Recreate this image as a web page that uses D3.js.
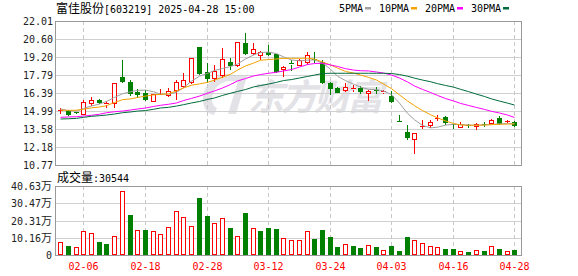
<!DOCTYPE html>
<html>
<head>
<meta charset="utf-8">
<title>富佳股份 日K</title>
<script src="https://cdn.jsdelivr.net/npm/d3@7"></script>
<style>
  body { margin: 0; background: #fff; }
  svg text { font-family: "DejaVu Sans Mono", monospace; font-size: 10px; }
  svg .cjk { font-family: "Noto Sans CJK SC", sans-serif; font-size: 12px; }
</style>
</head>
<body>
<svg id="chart" width="578" height="276"></svg>
<script>
// --- data ---
var title = "富佳股份";
var code = "[603219] 2025-04-28 15:00";
var dates = ["01-24","01-27","02-05","02-06","02-07","02-10","02-11","02-12","02-13","02-14",
  "02-17","02-18","02-19","02-20","02-21","02-24","02-25","02-26","02-27","02-28",
  "03-03","03-04","03-05","03-06","03-07","03-10","03-11","03-12","03-13","03-14",
  "03-17","03-18","03-19","03-20","03-21","03-24","03-25","03-26","03-27","03-28",
  "03-31","04-01","04-02","04-03","04-07","04-08","04-09","04-10","04-11","04-14",
  "04-15","04-16","04-17","04-18","04-21","04-22","04-23","04-24","04-25","04-28"];
var openP = [15.03,15.00,14.90,14.76,15.63,15.86,15.56,15.59,17.61,17.27,
  16.49,16.41,15.79,16.26,16.21,16.62,16.94,17.27,19.96,18.05,
  17.54,17.79,18.81,18.58,20.32,19.49,19.36,19.61,19.41,18.24,
  18.70,18.58,18.84,19.06,18.84,17.15,16.80,16.62,16.74,16.80,
  16.37,16.64,16.47,16.18,14.22,13.36,12.78,13.79,13.89,14.44,
  14.52,13.99,13.76,13.91,13.84,13.96,14.07,14.41,14.18,14.10];
var closeP = [15.05,14.78,14.88,15.70,15.84,15.66,15.60,17.15,17.30,16.37,
  16.29,15.90,16.31,16.30,16.55,17.27,17.40,19.10,17.93,17.54,
  18.13,19.02,18.55,20.39,19.54,19.80,19.61,19.43,18.13,18.44,
  18.67,18.94,19.36,19.02,17.27,16.80,16.49,16.88,16.78,16.55,
  16.57,16.60,16.51,15.77,14.20,12.96,13.24,13.83,14.15,14.47,
  14.10,13.96,13.97,13.88,14.00,13.94,14.28,14.07,14.20,13.91];
var highP = [15.20,15.05,14.92,15.82,16.10,15.95,15.79,17.15,18.97,17.40,
  16.68,16.60,16.31,16.68,16.76,17.40,17.93,19.10,19.96,18.76,
  18.58,19.93,19.10,20.39,21.10,20.32,19.66,20.14,19.43,18.47,
  19.00,19.02,19.61,19.60,18.97,17.25,16.82,17.15,17.01,16.96,
  16.60,16.83,16.60,16.55,14.67,13.89,13.26,14.28,14.31,14.67,
  14.62,14.00,14.15,14.00,14.02,14.10,14.36,14.62,14.26,14.18];
var lowP = [14.85,14.70,14.86,14.74,15.45,15.60,15.32,15.32,17.25,16.23,
  16.10,15.84,15.79,16.20,16.16,15.90,16.88,17.20,17.85,17.27,
  17.35,17.66,18.24,18.50,19.46,19.46,19.02,19.38,18.01,17.72,
  18.20,18.55,18.63,18.84,17.20,16.35,16.49,16.57,16.55,16.40,
  15.84,16.42,16.40,15.72,14.20,12.80,11.73,13.63,13.76,14.28,
  13.99,13.63,13.74,13.76,13.58,13.84,14.05,13.97,14.12,13.84];
// volume in 万 shares, and whether the volume bar is drawn red (1) or green (0)
var volume = [7.6,5.3,4.5,14.1,12.9,7.8,6.6,11.2,37.6,23.7,
  14.7,14.7,14.1,12.3,16.4,25.8,22.3,17.0,33.6,23.1,
  18.8,21.7,16.0,11.2,24.8,15.8,14.1,15.8,15.4,10.0,
  8.8,8.8,14.1,9.4,14.7,10.6,4.7,6.5,5.3,4.1,
  5.9,4.7,2.9,5.3,2.3,10.6,8.8,7.0,5.3,4.7,
  3.5,3.5,2.3,1.8,2.9,2.3,5.3,3.5,2.3,3.0544];
var volUp = [1,0,1,1,1,0,0,1,1,0, 1,0,1,1,1,1,1,1,0,0, 1,1,0,1,0,1,0,0,0,1,
  1,1,1,0,0,0,0,1,0,0, 1,0,1,0,0,0,1,1,1,1, 0,0,1,0,1,0,1,0,1,0];
var ma5 = [15.14,15.01,14.98,15.18,15.38,15.53,15.73,16.05,16.33,16.49,
  16.59,16.62,16.49,16.30,16.29,16.45,16.80,17.32,17.70,17.92,
  18.15,18.30,18.45,18.65,19.05,19.35,19.55,19.58,19.47,19.21,
  18.97,18.90,18.95,18.98,18.72,18.25,17.70,17.36,17.08,16.85,
  16.68,16.65,16.55,16.26,15.60,14.80,14.30,13.86,13.67,13.72,
  13.88,13.95,13.92,13.89,13.87,13.90,13.93,13.98,14.00,14.02];
var ma10 = [15.05,15.04,15.04,15.12,15.23,15.30,15.40,15.65,15.87,15.93,
  16.04,16.15,16.24,16.29,16.33,16.55,16.78,17.00,17.10,17.22,
  17.40,17.62,17.85,18.18,18.50,18.72,18.95,19.00,19.05,19.09,
  19.10,19.10,19.10,19.04,18.81,18.58,18.34,18.07,17.95,17.79,
  17.61,17.40,17.09,16.73,16.24,15.77,15.40,15.02,14.70,14.45,
  14.21,14.01,13.90,13.87,13.87,13.89,13.92,13.95,13.97,13.97];
var ma20 = [14.49,14.52,14.54,14.59,14.65,14.73,14.85,14.93,14.98,15.06,
  15.14,15.22,15.34,15.43,15.51,15.61,15.80,15.97,16.15,16.37,
  16.55,16.78,17.05,17.33,17.52,17.72,17.83,17.93,18.01,18.11,
  18.22,18.42,18.61,18.69,18.71,18.58,18.46,18.29,18.18,18.13,
  18.11,18.03,17.95,17.79,17.56,17.25,16.94,16.67,16.43,16.20,
  15.96,15.77,15.58,15.42,15.26,15.11,14.96,14.83,14.67,14.48];
var ma30 = [14.36,14.38,14.41,14.49,14.57,14.62,14.67,14.75,14.85,14.91,
  14.98,15.02,15.12,15.22,15.27,15.37,15.48,15.61,15.73,15.89,
  16.00,16.20,16.37,16.51,16.66,16.86,16.97,17.09,17.22,17.36,
  17.44,17.56,17.68,17.79,17.91,17.93,17.93,17.93,17.93,17.93,
  17.93,17.93,17.93,17.91,17.83,17.70,17.55,17.40,17.27,17.12,
  16.98,16.85,16.68,16.50,16.30,16.12,15.93,15.76,15.60,15.45];
var priceTicks = ["22.01","20.60","19.20","17.79","16.39","14.99","13.58","12.18","10.77"];
var volTicks = ["40.63万","30.47万","20.31万","10.16万","0"];
var xTicks = ["02-06","02-18","02-28","03-12","03-24","04-03","04-16","04-28"];
var maNames = ["5PMA","10PMA","20PMA","30PMA"];
var lastVolume = "30544";

// --- layout ---
var RED = "#ff0000", GREEN = "#008000";
var maColors = ["#a0a0a0", "#f5a300", "#ff00ff", "#006b3c"];
var left = 55, right = 522;
var pTop = 21, pBottom = 165, vTop = 186, vBottom = 255;

var svg = d3.select("#chart");
var n = dates.length;

var x = d3.scaleBand().domain(d3.range(n)).range([56.45, 518.15]);
function cx(i) { return Math.round(x(i) + x.bandwidth() / 2); }
var y = d3.scaleLinear().domain([+priceTicks[8], +priceTicks[0]]).range([pBottom, pTop]);
var yv = d3.scaleLinear().domain([0, parseFloat(volTicks[0])]).range([vBottom, vTop]);

// watermark
var wm = svg.append("g").attr("fill", "#e2e2e7");
wm.append("path")
  .attr("d", "M226,74 C214,76 204,85 203,97 C202,107 207,114 214,115 L217,108 C212,106 211,100 213,94 C215,87 221,82 229,81 L238,81 L228,114 L236,114 L247,76 Z");
wm.append("text").attr("class", "cjk")
  .attr("x", 248).attr("y", 110)
  .style("font-size", "36px").style("font-weight", "bold").style("font-style", "italic")
  .style("letter-spacing", "-3px")
  .text("东方财富");

// grids
function hGrid(scale, vals) {
  svg.append("g").selectAll("line").data(vals).join("line")
    .attr("x1", left).attr("x2", right)
    .attr("y1", function(d) { return Math.round(scale(d)) + 0.5; })
    .attr("y2", function(d) { return Math.round(scale(d)) + 0.5; })
    .attr("stroke", "#d0d0d0");
}
hGrid(y, priceTicks.map(Number));
hGrid(yv, volTicks.map(parseFloat));

var tickIdx = xTicks.map(function(t) { return dates.indexOf(t); });
[[pTop, pBottom], [vTop, vBottom]].forEach(function(r) {
  svg.append("g").selectAll("line").data(tickIdx).join("line")
    .attr("x1", function(i) { return cx(i) + 0.5; })
    .attr("x2", function(i) { return cx(i) + 0.5; })
    .attr("y1", r[0]).attr("y2", r[1])
    .attr("stroke", "#c8c8c8").attr("stroke-dasharray", "4,3");
});

// candles
var candles = svg.append("g").selectAll("g").data(d3.range(n)).join("g");
candles.each(function(i) {
  var g = d3.select(this);
  var c = cx(i);
  var up = closeP[i] >= openP[i];
  var col = up ? RED : GREEN;
  var yt = Math.round(y(Math.max(openP[i], closeP[i])));
  var yb = Math.round(y(Math.min(openP[i], closeP[i])));
  var yh = Math.round(y(highP[i])), yl = Math.round(y(lowP[i]));
  if (yh < yt) g.append("line").attr("x1", c + 0.5).attr("x2", c + 0.5).attr("y1", yh).attr("y2", yt).attr("stroke", col);
  if (yl > yb) g.append("line").attr("x1", c + 0.5).attr("x2", c + 0.5).attr("y1", yb + 1).attr("y2", yl + 1).attr("stroke", col);
  if (yb - yt < 2) {
    g.append("line").attr("x1", c - 2).attr("x2", c + 3)
      .attr("y1", yt + 0.5).attr("y2", yt + 0.5).attr("stroke", col);
  } else if (up) {
    g.append("rect").attr("x", c - 1.5).attr("y", yt + 0.5).attr("width", 4).attr("height", yb - yt)
      .attr("fill", "#fff").attr("stroke", col);
  } else {
    g.append("rect").attr("x", c - 2).attr("y", yt).attr("width", 5).attr("height", yb - yt + 1)
      .attr("fill", col);
  }
});

// moving averages
[ma5, ma10, ma20, ma30].forEach(function(arr, k) {
  svg.append("path").datum(arr)
    .attr("fill", "none").attr("stroke", maColors[k]).attr("stroke-width", 1)
    .attr("d", d3.line().x(function(d, i) { return cx(i) + 0.5; }).y(function(d) { return y(d); }));
});

// volume bars
svg.append("g").selectAll("rect").data(d3.range(n)).join("rect")
  .each(function(i) {
    var r = d3.select(this), c = cx(i);
    var yt = Math.round(yv(volume[i]));
    if (volUp[i]) {
      r.attr("x", c - 1.5).attr("y", yt + 0.5).attr("width", 4).attr("height", vBottom - yt - 1)
        .attr("fill", "#fff").attr("stroke", RED);
    } else {
      r.attr("x", c - 2).attr("y", yt).attr("width", 5).attr("height", vBottom - yt)
        .attr("fill", GREEN);
    }
  });

// frames
[[pTop, pBottom], [vTop, vBottom]].forEach(function(r) {
  svg.append("rect").attr("x", left + 0.5).attr("y", r[0] + 0.5)
    .attr("width", right - left - 1).attr("height", r[1] - r[0])
    .attr("fill", "none").attr("stroke", "#999");
});

// axis labels
svg.append("g").selectAll("text").data(priceTicks).join("text")
  .attr("x", 53).attr("y", function(d) { return y(+d) + 4; })
  .attr("text-anchor", "end").attr("fill", "#222").text(function(d) { return d; });

var vl = svg.append("g").selectAll("text").data(volTicks).join("text")
  .attr("x", 52).attr("y", function(d) { return yv(parseFloat(d)) + 4; })
  .attr("text-anchor", "end").attr("fill", "#222");
vl.each(function(d) {
  var t = d3.select(this);
  if (d.indexOf("万") >= 0) {
    t.append("tspan").text(d.replace("万", ""));
    t.append("tspan").attr("class", "cjk").style("font-size", "11px").text("万");
  } else t.text(d);
});

svg.append("g").selectAll("text").data(tickIdx).join("text")
  .attr("x", function(i) { return cx(i) + 0.5; }).attr("y", 270)
  .attr("text-anchor", "middle").attr("fill", RED)
  .text(function(i) { return dates[i]; });

// title
var tt = svg.append("text").attr("x", 56).attr("y", 13).attr("fill", "#000");
tt.append("tspan").attr("class", "cjk").text(title);
tt.append("tspan").text(code);

// legend
var lx = 339;
maNames.forEach(function(name, k) {
  svg.append("text").attr("x", lx).attr("y", 12).attr("fill", "#000").text(name);
  var w = name.length * 6.02;
  svg.append("rect").attr("x", Math.round(lx + w + 2)).attr("y", 7).attr("width", 6).attr("height", 2.5)
    .attr("fill", maColors[k]);
  lx = Math.round(lx + w + 2) + 6 + 8;
});

// volume caption
var vc = svg.append("text").attr("x", 57).attr("y", 182).attr("fill", "#000");
vc.append("tspan").attr("class", "cjk").text("成交量");
vc.append("tspan").text(":" + lastVolume);
</script>
</body>
</html>
